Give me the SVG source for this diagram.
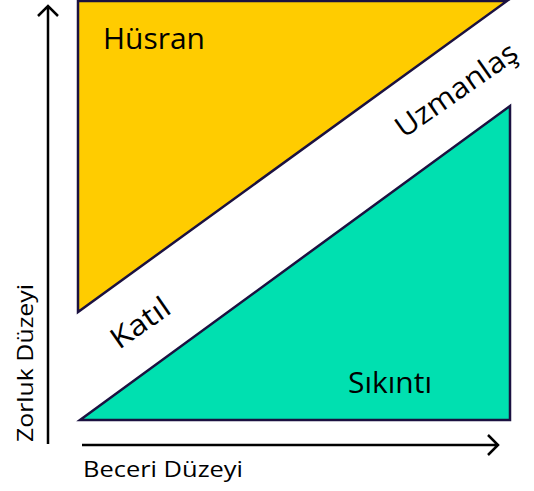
<svg xmlns="http://www.w3.org/2000/svg" width="534" height="491" viewBox="0 0 534 491">
<style>
.zone{stroke:#1b1140;stroke-width:2.5;stroke-linejoin:miter}
.ax{stroke:#000;stroke-width:2.5;fill:none}
.t{font-family:"Open Sans","Noto Sans","Liberation Sans",sans-serif;fill:#000}
</style>
<rect width="534" height="491" fill="#fff"/>
<g id="husran">
<polygon class="zone" points="78,1 507,1 78,312" fill="#ffcc00"/>
<text class="t" x="103" y="49" font-size="29" textLength="102" lengthAdjust="spacingAndGlyphs">Hüsran</text>
</g>
<g id="sikinti">
<polygon class="zone" points="80,420 510,106 510,420" fill="#00e0b0"/>
<text class="t" x="348" y="393" font-size="29" textLength="84" lengthAdjust="spacingAndGlyphs">Sıkıntı</text>
</g>
<g id="uzmanlas">
<text class="t" font-size="29" text-anchor="middle" textLength="142" lengthAdjust="spacingAndGlyphs" transform="translate(462,98) rotate(-35)">Uzmanlaş</text>
</g>
<g id="katil">
<text class="t" font-size="29" text-anchor="middle" textLength="66" lengthAdjust="spacingAndGlyphs" transform="translate(146,331) rotate(-35)">Katıl</text>
</g>
<g id="axes">
<path class="ax" d="M48,444 V7 M38,16 L48,6 L58,16"/>
<path class="ax" d="M82,445 H497 M488,435 L498,445 L488,455"/>
<text class="t" x="83" y="477" font-size="22" textLength="160" lengthAdjust="spacingAndGlyphs">Beceri Düzeyi</text>
<text class="t" font-size="22" textLength="158" lengthAdjust="spacingAndGlyphs" transform="translate(33,442) rotate(-90)">Zorluk Düzeyi</text>
</g>
</svg>
